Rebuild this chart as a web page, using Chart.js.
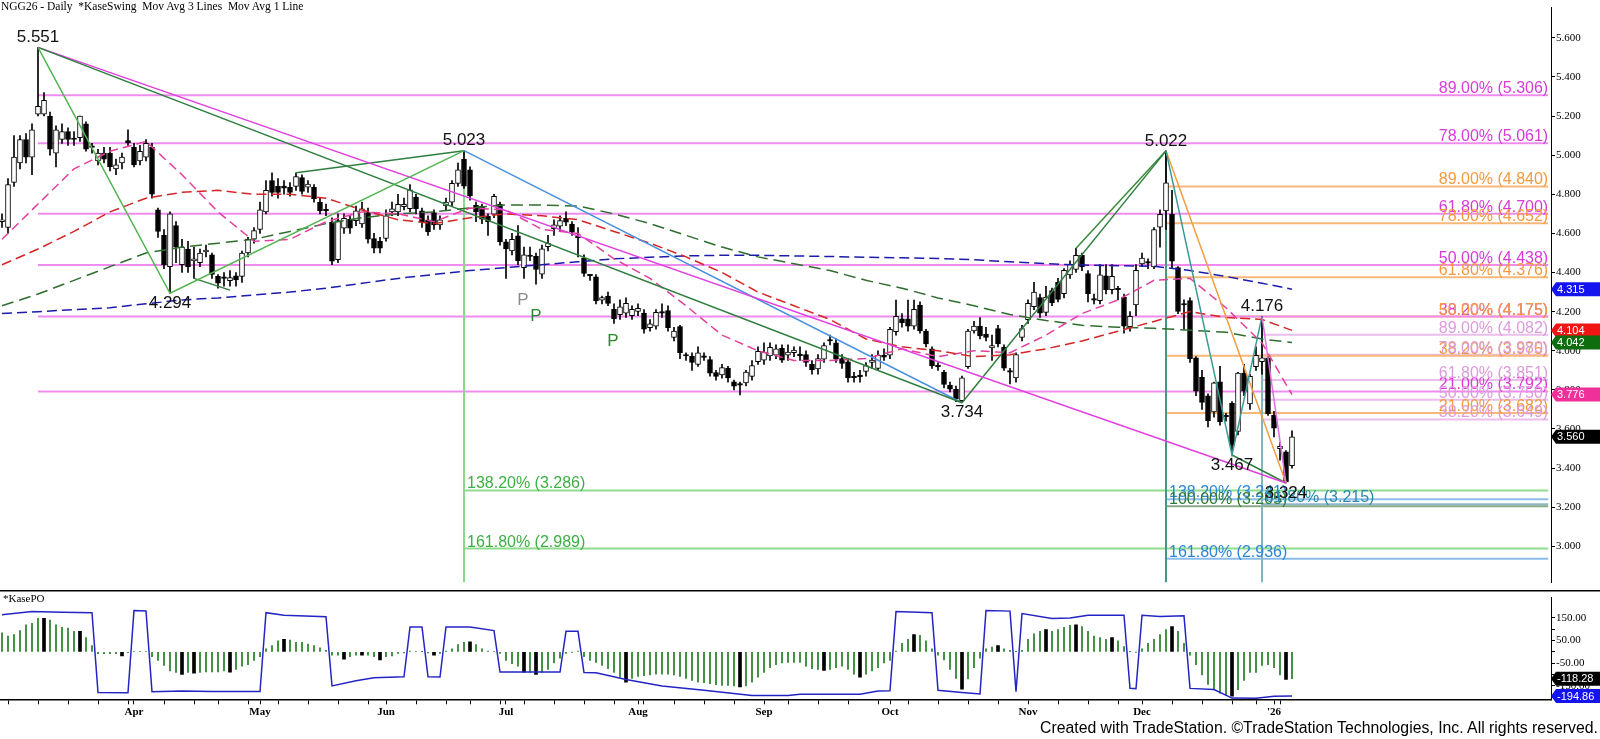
<!DOCTYPE html>
<html><head><meta charset="utf-8">
<script src="https://cdn.jsdelivr.net/npm/chart.js@4.4.1/dist/chart.umd.min.js"></script>
<style>
html,body{margin:0;padding:0;background:#fff;width:1600px;height:739px;overflow:hidden;position:relative}
#c1{position:absolute;left:0;top:0}
#c2{position:absolute;left:0;top:590px}
#title{position:absolute;left:1px;top:0px;font:11.5px "Liberation Serif";color:#000;white-space:pre}
#po{position:absolute;left:3px;top:592px;font:11px "Liberation Serif";color:#000}
#copy{position:absolute;right:2px;top:719px;font:16px "Liberation Sans";color:#000;white-space:nowrap;transform-origin:right center}
</style></head><body>
<canvas id="c1" width="1600" height="590"></canvas>
<canvas id="c2" width="1600" height="149"></canvas>
<div id="title">NGG26 - Daily  *KaseSwing  Mov Avg 3 Lines  Mov Avg 1 Line</div>
<div id="po">*KasePO</div>
<div id="copy">Created with TradeStation. ©TradeStation Technologies, Inc. All rights reserved.</div>
<script>
// ---------- price data (bar index 0 = 28 Feb 2025 ... 215 = 7 Jan 2026) ----------
const openP = [
4.66,4.63,4.86,4.96,5.08,4.99,5.21,5.21,5.20,5.01,
5.08,5.12,5.08,5.09,5.16,5.04,4.97,5.01,5.01,4.93,
4.96,5.075,5.04,4.97,4.99,5.04,4.72,4.59,4.43,4.64,
4.44,4.52,4.46,4.45,4.505,4.49,4.38,4.37,4.358,4.383,
4.38,4.50,4.57,4.62,4.71,4.87,4.84,4.842,4.836,4.84,
4.886,4.836,4.836,4.76,4.715,4.657,4.466,4.627,4.673,4.665,
4.648,4.707,4.574,4.56,4.574,4.71,4.71,4.737,4.726,4.786,
4.715,4.67,4.707,4.643,4.74,4.76,4.856,4.98,4.925,4.743,
4.74,4.687,4.698,4.748,4.557,4.511,4.587,4.425,4.482,4.483,
4.391,4.532,4.624,4.637,4.677,4.648,4.577,4.474,4.383,4.378,
4.259,4.279,4.212,4.184,4.192,4.179,4.201,4.192,4.118,4.126,
4.192,4.206,4.068,4.123,3.973,3.973,3.93,3.966,3.955,3.889,
3.877,3.91,3.841,3.824,3.836,3.869,3.944,3.952,3.973,3.978,
4.013,3.977,3.99,3.975,3.98,3.93,3.907,3.957,4.05,4.04,
3.96,3.944,3.862,3.868,3.894,3.94,3.91,3.977,3.977,4.098,
4.163,4.163,4.126,4.234,4.101,4.01,3.919,3.891,3.824,3.803,
3.745,3.919,4.101,4.126,4.085,4.015,4.113,4.018,3.891,3.861,
4.068,4.159,4.226,4.272,4.196,4.308,4.35,4.292,4.388,4.416,
4.488,4.395,4.259,4.256,4.383,4.312,4.312,4.275,4.123,4.234,
4.444,4.448,4.428,4.632,4.715,4.698,4.425,4.234,4.256,3.964,
3.864,3.77,3.687,3.841,3.662,3.731,3.587,3.886,3.728,3.919,
3.944,3.964,3.67,3.499,3.483,3.413];
const highP = [
4.70,4.88,5.10,5.10,5.11,5.16,5.551,5.32,5.22,5.15,
5.16,5.14,5.12,5.20,5.17,5.06,5.03,5.04,5.04,4.98,
5.01,5.13,5.06,5.05,5.08,5.06,4.73,4.62,4.71,4.66,
4.57,4.56,4.53,4.52,4.54,4.50,4.39,4.40,4.41,4.40,
4.51,4.58,4.63,4.76,4.87,4.91,4.88,4.87,4.86,4.91,
4.90,4.87,4.85,4.78,4.75,4.68,4.70,4.70,4.69,4.74,
4.76,4.73,4.60,4.58,4.72,4.76,4.80,4.78,4.85,4.80,
4.73,4.69,4.72,4.69,4.78,4.87,4.96,5.023,4.94,4.76,
4.75,4.70,4.80,4.76,4.57,4.60,4.64,4.53,4.53,4.50,
4.54,4.59,4.67,4.69,4.71,4.66,4.63,4.49,4.39,4.39,
4.28,4.30,4.24,4.26,4.27,4.23,4.24,4.21,4.16,4.21,
4.24,4.23,4.12,4.13,3.99,3.99,4.02,3.99,3.97,3.90,
3.93,3.92,3.85,3.84,3.90,3.95,4.02,4.04,4.04,4.03,
4.03,4.03,4.02,4.02,4.00,3.95,3.98,4.04,4.08,4.06,
3.98,3.96,3.89,3.90,3.94,3.98,4.00,4.01,4.12,4.259,
4.19,4.259,4.259,4.25,4.11,4.02,3.94,3.90,3.84,3.82,
3.87,4.11,4.15,4.17,4.12,4.08,4.13,4.03,3.91,3.99,
4.13,4.26,4.35,4.29,4.33,4.32,4.37,4.42,4.46,4.524,
4.50,4.41,4.29,4.44,4.44,4.44,4.33,4.29,4.20,4.44,
4.50,4.47,4.63,4.72,5.022,4.82,4.43,4.26,4.27,3.97,
3.90,3.78,3.84,3.92,3.68,3.74,3.89,3.93,3.88,4.02,
4.176,3.97,3.69,3.53,3.49,3.59];
const lowP = [
4.63,4.60,4.84,4.93,4.96,4.90,5.20,5.20,5.00,4.94,
5.06,5.05,5.05,5.07,5.02,5.01,4.95,4.96,4.92,4.90,
4.93,5.05,4.94,4.95,4.97,4.78,4.58,4.42,4.294,4.45,
4.40,4.40,4.37,4.43,4.48,4.37,4.32,4.33,4.33,4.33,
4.35,4.48,4.55,4.60,4.70,4.79,4.78,4.80,4.79,4.82,
4.80,4.81,4.76,4.70,4.69,4.44,4.45,4.60,4.60,4.64,
4.63,4.55,4.50,4.50,4.56,4.69,4.69,4.72,4.71,4.70,
4.63,4.59,4.62,4.62,4.72,4.74,4.84,4.83,4.77,4.66,
4.65,4.59,4.68,4.54,4.37,4.49,4.44,4.37,4.46,4.34,
4.37,4.51,4.59,4.61,4.64,4.59,4.48,4.38,4.36,4.24,
4.24,4.23,4.14,4.16,4.17,4.16,4.18,4.09,4.10,4.11,
4.17,4.10,4.05,3.96,3.95,3.90,3.92,3.95,3.87,3.85,
3.86,3.84,3.80,3.774,3.82,3.85,3.93,3.93,3.95,3.96,
3.94,3.95,3.97,3.95,3.92,3.88,3.88,3.94,4.03,3.94,
3.91,3.84,3.84,3.84,3.87,3.91,3.90,3.95,3.96,4.08,
4.12,4.10,4.11,4.09,4.02,3.91,3.90,3.81,3.79,3.74,
3.734,3.91,4.09,4.06,4.05,3.95,4.02,3.90,3.83,3.84,
4.05,4.14,4.21,4.17,4.18,4.23,4.25,4.27,4.37,4.40,
4.41,4.25,4.24,4.24,4.29,4.29,4.26,4.09,4.10,4.18,
4.43,4.42,4.42,4.53,4.62,4.42,4.19,4.11,3.94,3.77,
3.70,3.61,3.66,3.62,3.64,3.467,3.57,3.77,3.70,3.90,
3.88,3.67,3.56,3.44,3.324,3.40];
const closeP = [
4.67,4.85,4.99,5.08,4.99,5.13,5.25,5.28,5.03,5.13,
5.12,5.08,5.083,5.20,5.03,5.043,5.01,4.98,4.94,4.95,
4.99,5.063,4.95,5.02,5.06,4.80,4.61,4.44,4.70,4.53,
4.53,4.43,4.47,4.50,4.515,4.39,4.345,4.373,4.374,4.362,
4.50,4.57,4.615,4.72,4.82,4.81,4.81,4.831,4.809,4.89,
4.814,4.852,4.776,4.715,4.718,4.458,4.665,4.677,4.627,4.715,
4.726,4.57,4.524,4.524,4.69,4.726,4.748,4.748,4.823,4.726,
4.657,4.607,4.643,4.67,4.76,4.856,4.925,4.842,4.791,4.71,
4.673,4.66,4.789,4.557,4.521,4.57,4.461,4.491,4.485,4.416,
4.521,4.549,4.644,4.665,4.657,4.607,4.58,4.395,4.386,4.255,
4.272,4.242,4.163,4.225,4.242,4.212,4.217,4.11,4.138,4.196,
4.195,4.118,4.101,3.99,3.976,3.94,3.99,3.969,3.885,3.869,
3.914,3.861,3.819,3.827,3.891,3.924,3.997,3.993,4.018,4.01,
3.952,3.993,4.003,3.978,3.94,3.902,3.96,4.027,4.053,3.957,
3.935,3.861,3.866,3.871,3.924,3.952,3.977,3.967,4.109,4.176,
4.143,4.126,4.212,4.101,4.035,3.924,3.922,3.828,3.803,3.753,
3.861,4.101,4.126,4.076,4.068,4.027,4.035,3.911,3.894,3.98,
4.113,4.242,4.30,4.192,4.275,4.245,4.262,4.411,4.441,4.488,
4.428,4.292,4.262,4.388,4.312,4.38,4.315,4.126,4.176,4.411,
4.474,4.451,4.62,4.698,4.859,4.458,4.201,4.237,3.96,3.794,
3.736,3.642,3.836,3.637,3.665,3.516,3.886,3.794,3.869,3.977,
3.964,3.678,3.604,3.512,3.33,3.56];

// ---------- moving averages (read at these bar indices) ----------
const maX     = [0,6,12,18,24,30,36,42,48,54,60,66,72,78,84,90,96,102,108,114,120,126,132,138,144,150,156,162,168,174,180,186,192,198,204,210,215];
const maPink  = [4.57,4.75,4.93,5.02,5.07,4.90,4.71,4.56,4.57,4.66,4.71,4.70,4.66,4.73,4.72,4.62,4.60,4.47,4.37,4.23,4.08,4.00,3.95,3.95,3.96,4.01,3.97,4.00,3.99,4.08,4.19,4.26,4.36,4.37,4.22,4.04,3.776];
const maRed   = [4.44,4.52,4.61,4.71,4.78,4.81,4.82,4.80,4.80,4.78,4.72,4.67,4.65,4.68,4.70,4.69,4.67,4.61,4.55,4.48,4.40,4.30,4.23,4.16,4.06,4.02,4.00,3.97,3.98,4.01,4.05,4.10,4.15,4.20,4.17,4.16,4.104];
const maGreen = [4.23,4.29,4.36,4.43,4.50,4.53,4.55,4.57,4.61,4.65,4.68,4.70,4.71,4.73,4.745,4.745,4.74,4.70,4.65,4.59,4.53,4.48,4.445,4.41,4.36,4.32,4.27,4.23,4.185,4.155,4.13,4.12,4.115,4.105,4.095,4.06,4.042];
const maBlue  = [4.19,4.20,4.21,4.22,4.24,4.26,4.27,4.285,4.30,4.32,4.345,4.37,4.39,4.41,4.425,4.44,4.455,4.47,4.478,4.485,4.488,4.488,4.485,4.482,4.478,4.475,4.472,4.465,4.455,4.445,4.438,4.435,4.432,4.41,4.38,4.345,4.315];

// ---------- swings ----------
const swingIdx = [6, 28, 77, 160, 194, 205, 210, 214];
const swingVal = [5.551, 4.294, 5.023, 3.734, 5.022, 3.467, 4.176, 3.324];
const swingPos = ['above','below','above','below','above','below','above','below'];

// ---------- fib levels ----------
const magentaFib = [5.306, 5.061, 4.700, 4.438, 4.175, 3.792];
const magentaPct = ['89.00%','78.00%','61.80%','50.00%','38.20%','21.00%'];
const orangeFib  = [4.840, 4.652, 4.376, 4.175, 3.975, 3.682];
const orangePct  = ['89.00%','78.00%','61.80%','50.00%','38.20%','21.00%'];
const pinkFib    = [4.082, 3.980, 3.851, 3.750, 3.649];
const pinkPct    = ['89.00%','78.00%','61.80%','50.00%','38.20%'];
const greenExt   = [3.286, 2.989];
const greenExtPct= ['138.20%','161.80%'];
const blueExt    = [3.241, 2.936];
const blueExtPct = ['138.20%','161.80%'];
const dkGreenExt = [3.205];
const dkGreenPct = ['100.00%'];
const tealExt    = [3.215];
const tealExtPct = ['61.80%'];

// P markers
const pIdx = [86.8, 89, 101.8];
const pVal = [4.26, 4.175, 4.05];
const pCol = ['#8c8c8c', '#2a8a2a', '#2a8a2a'];

// axis ticks
const priceTicks = [3.0,3.2,3.4,3.6,3.8,4.0,4.2,4.4,4.6,4.8,5.0,5.2,5.4,5.6];
const poTicks = [-200,-150,-100,-50,0,50,100,150];
const poTickLabels = {'150':'150.00','50':'50.00','-50':'-50.00','-150':'-150.00'};
const monthIdx = [22,43,64,84,106,127,148,171,190,212];
const monthLbl = ['Apr','May','Jun','Jul','Aug','Sep','Oct','Nov','Dec',"'26"];
const weekIdx = [1,6,11,16,21,27,32,36,41,46,51,56,61,64,69,74,78,83,87,92,97,102,107,112,117,122,127,131,136,141,146,151,156,161,166,171,176,181,186,190,195,200,205,209,213];

// ---------- KasePO ----------
const poHist = [
84,70,77,94,119,126,148,148,141,119,
108,105,91,91,63,28,-8,-8,-8,-8,
-18,-3,3,2,2,-21,-38,-60,-84,-91,
-99,-91,-94,-91,-88,-88,-88,-84,-89,-77,
-63,-56,-38,-21,14,28,49,56,52,42,
42,35,28,18,7,-14,-14,-32,-21,-14,
-14,-14,-21,-35,-21,-18,-7,-4,4,3,
1,-4,-14,-7,4,14,32,42,45,32,
14,4,3,-7,-38,-52,-63,-89,-89,-99,
-89,-77,-49,-28,-7,-1,4,-21,-38,-46,
-60,-74,-91,-112,-134,-117,-108,-105,-102,-98,
-98,-98,-102,-108,-117,-126,-134,-136,-140,-145,
-148,-148,-150,-155,-150,-134,-112,-91,-70,-56,
-49,-46,-46,-46,-63,-74,-77,-82,-77,-70,
-63,-77,-98,-112,-98,-84,-70,-49,-38,4,
38,56,77,73,49,14,-14,-35,-77,-117,
-164,-119,-70,-28,14,21,28,14,7,1,
7,56,80,91,98,91,98,108,117,119,
112,91,70,63,56,63,49,24,1,-1,
14,38,56,77,98,112,91,38,-14,-56,
-102,-144,-167,-182,-191,-195,-167,-126,-91,-91,
-60,-56,-70,-102,-121,-118.28];
const poBlack = [7,13,20,30,32,38,47,57,60,63,72,78,87,89,104,123,137,143,152,160,166,174,179,185,195,205,214];
const poLineIdx = [0,5,10,15,16,21,22,24,25,30,35,43,44,47,54,55,59,62,67,68,70,71,73,74,78,82,83,93,94,96,97,99,104,110,117,125,131,133,143,146,148,149,155,156,160,163,164,168,169,170,175,178,181,187,188,189,190,193,197,198,202,205,209,212,215];
const poLineVal = [164,178,175,173,-179,-180,183,181,-176,-173,-175,-175,173,162,155,-150,-127,-114,-110,110,110,-110,-111,110,110,94,-89,-89,91,91,-91,-92,-122,-150,-169,-192,-192,-187,-187,-173,-172,178,173,-169,-179,-186,183,180,-176,169,148,150,162,162,-161,-162,162,156,160,-161,-166,-204,-205,-196,-194.86];

// right-side value badges
const priceBadgeVal = [4.315, 4.104, 4.042, 3.776, 3.560];
const priceBadgeCol = ['#1414f0', '#f01414', '#0e6e0e', '#f0309a', '#000000'];
const poBadgeVal = [-118.28, -194.86];
const poBadgeCol = ['#000000', '#1414f0'];

// ---------- layout constants ----------
const AXIS_W = 49;
const X_MIN = -2/6, X_MAX = X_MIN + 1551/6;
const FIB_END = 257.7;
const Y_MIN = 2.8157, Y_MAX = 5.7544;
const PO_MIN = -209.2, PO_MAX = 239.7;

function lineDS(points, color, width, dash, order){
  return {type:'line', data:points, borderColor:color, borderWidth:width, borderDash:dash||[],
    pointRadius:0, pointHoverRadius:0, fill:false, tension:0, order:order};
}
const pts = (xs, ys) => xs.map((x,k)=>({x:x, y:ys[k]}));

const fibSets = [
 {levels:magentaFib, pct:magentaPct, start:6,   line:'#f08cf0', text:'#d83ad8', align:'right'},
 {levels:orangeFib,  pct:orangePct,  start:194, line:'#f8b878', text:'#f39a40', align:'right'},
 {levels:pinkFib,    pct:pinkPct,    start:210, line:'#ecbcec', text:'#dc9cdc', align:'right'},
 {levels:greenExt,   pct:greenExtPct,start:77,  line:'#8edc8e', text:'#3cb043', align:'left'},
 {levels:blueExt,    pct:blueExtPct, start:194, line:'#8cbcec', text:'#2d86d6', align:'left'},
 {levels:dkGreenExt, pct:dkGreenPct, start:194, line:'#88aa88', text:'#2e7d32', align:'left'},
 {levels:tealExt,    pct:tealExtPct, start:210, line:'#8cb8c8', text:'#2a8aaa', align:'left'}
];

const datasets = [];
fibSets.forEach(fs => fs.levels.forEach(lv => {
  datasets.push(lineDS([{x:fs.start,y:lv},{x:FIB_END,y:lv}], fs.line, 2, null, 10));
}));
// vertical swing lines
datasets.push(lineDS([{x:swingIdx[2],y:swingVal[2]},{x:swingIdx[2],y:Y_MIN}], '#8ad88a', 2, null, 9));
datasets.push(lineDS([{x:swingIdx[4],y:swingVal[4]},{x:swingIdx[4],y:Y_MIN}], '#4a9484', 2, null, 9));
datasets.push(lineDS([{x:swingIdx[6],y:swingVal[6]},{x:swingIdx[6],y:Y_MIN}], '#84b4ba', 2, null, 9));

// candles
const isDoji = i => Math.abs(closeP[i]-openP[i]) < 0.005;
datasets.push({type:'bar', data: highP.map((h,i)=>({x:i, y:[lowP[i], h]})), backgroundColor:'#000',
  barThickness:1, grouped:false, order:6});
datasets.push({type:'bar', data: closeP.map((c,i)=>({x:i, y:[openP[i], c]})),
  backgroundColor: closeP.map((c,i)=> (isDoji(i) || c < openP[i]) ? '#000' : '#fff'),
  borderColor:'#000', borderWidth:1, borderSkipped:false, barThickness:5, minBarLength:1.5,
  grouped:false, order:5});

// moving averages
datasets.push(lineDS(pts(maX, maBlue),  '#1c1caa', 1.5, [10,5], 4));
datasets.push(lineDS(pts(maX, maGreen), '#2f6e2f', 1.5, [12,6], 4));
datasets.push(lineDS(pts(maX, maRed),   '#d42626', 1.5, [10,5], 3));
datasets.push(lineDS(pts(maX, maPink),  '#e2409c', 1.5, [9,5], 3));

// swing lines
const S = (k) => ({x:swingIdx[k], y:swingVal[k]});
datasets.push(lineDS([S(0),S(1),S(2)], '#52b552', 1.5, null, 2));
datasets.push(lineDS([S(0),S(3)], '#2f7f3f', 1.5, null, 2));
datasets.push(lineDS([S(0),S(7)], '#e040e0', 1.5, null, 2));
datasets.push(lineDS([{x:32,y:4.37},{x:38,y:4.31}], '#2f7f3f', 1.5, null, 2));
datasets.push(lineDS([{x:49,y:4.91},S(2)], '#2f7f3f', 1.5, null, 2));
datasets.push(lineDS([S(2),S(3)], '#4a90dc', 1.5, null, 2));
datasets.push(lineDS([S(3),S(4)], '#2f7f3f', 1.5, null, 2));
datasets.push(lineDS([{x:179,y:4.524},S(4)], '#3a8a3a', 1.5, null, 2));
datasets.push(lineDS([S(4),S(5),S(6)], '#3a9a96', 1.5, null, 2));
datasets.push(lineDS([S(6),S(7)], '#e070e0', 1.5, null, 2));
datasets.push(lineDS([S(4),S(7)], '#f0a040', 1.5, null, 2));
datasets.push(lineDS([S(5),S(7)], '#2f7f3f', 1.5, null, 2));

function badge(ctx, py, col, txt){
  ctx.fillStyle = col;
  ctx.beginPath();
  ctx.moveTo(1551, py); ctx.lineTo(1556, py-7); ctx.lineTo(1600, py-7);
  ctx.lineTo(1600, py+7); ctx.lineTo(1556, py+7); ctx.closePath(); ctx.fill();
  ctx.fillStyle = '#fff'; ctx.font = '11px "Liberation Sans"';
  ctx.textAlign = 'left'; ctx.textBaseline = 'middle';
  ctx.fillText(txt, 1557, py+0.5);
}

const annotPlugin = {
  id:'annot',
  afterDraw(chart){
    const {ctx, scales:{x, y}} = chart;
    ctx.save();
    ctx.font = '16px "Liberation Sans"';
    ctx.textBaseline = 'alphabetic';
    fibSets.forEach(fs => {
      ctx.fillStyle = fs.text;
      fs.levels.forEach((lv,k) => {
        const py = y.getPixelForValue(lv) - 2;
        const label = fs.pct[k] + ' (' + lv.toFixed(3) + ')';
        if (fs.align === 'right') { ctx.textAlign='right'; ctx.fillText(label, x.getPixelForValue(FIB_END), py); }
        else { ctx.textAlign='left'; ctx.fillText(label, x.getPixelForValue(fs.start)+3, py); }
      });
    });
    ctx.font = '17px "Liberation Sans"';
    ctx.fillStyle = '#111'; ctx.textAlign = 'center'; ctx.textBaseline = 'middle';
    swingIdx.forEach((si,k) => {
      const px = x.getPixelForValue(si), py = y.getPixelForValue(swingVal[k]);
      ctx.fillText(swingVal[k].toFixed(3), px, swingPos[k]==='above' ? py-10 : py+10);
    });
    pIdx.forEach((pi,k) => {
      ctx.fillStyle = pCol[k];
      ctx.fillText('P', x.getPixelForValue(pi), y.getPixelForValue(pVal[k]));
    });
    priceBadgeVal.forEach((v,k) => badge(ctx, y.getPixelForValue(v), priceBadgeCol[k], v.toFixed(3)));
    ctx.restore();
  }
};

new Chart(document.getElementById('c1'), {
  type:'bar',
  data:{datasets},
  options:{
    responsive:false, animation:false, events:[],
    layout:{padding:0},
    plugins:{legend:{display:false}, tooltip:{enabled:false}},
    scales:{
      x:{type:'linear', min:X_MIN, max:X_MAX, display:false, offset:false, grid:{offset:false}},
      y:{type:'linear', position:'right', min:Y_MIN, max:Y_MAX,
         afterFit:s=>{s.width=AXIS_W;},
         afterBuildTicks:s=>{s.ticks = priceTicks.map(v=>({value:v}));},
         grid:{drawOnChartArea:false, drawTicks:true, tickLength:4, color:'#000'},
         border:{display:true, color:'#000', width:1},
         ticks:{autoSkip:false, color:'#000', padding:1, font:{family:'Liberation Serif', size:11}, callback:v=>Number(v).toFixed(3)}}
    }
  },
  plugins:[annotPlugin]
});

// ---------- KasePO panel ----------
const poDatasets = [
  {type:'bar', data: poHist.map((v,i)=>({x:i,y:v})).filter(p=>!poBlack.includes(p.x)),
   backgroundColor:'#1f7a1f', barThickness:1, grouped:false, order:3},
  {type:'bar', data: poHist.map((v,i)=>({x:i,y:v})).filter(p=>poBlack.includes(p.x)),
   backgroundColor:'#000', barThickness:3, grouped:false, order:2},
  lineDS(pts(poLineIdx, poLineVal), '#2424c4', 1.5, null, 1)
];
const poPlugin = {
  id:'poAnnot',
  afterDraw(chart){
    const {ctx, scales:{y}} = chart;
    ctx.save();
    ctx.fillStyle = '#000';
    ctx.fillRect(0, 0, 1600, 1.5);
    poBadgeVal.forEach((v,k)=> badge(ctx, y.getPixelForValue(v), poBadgeCol[k], v.toFixed(2)));
    ctx.restore();
  }
};
const allTicks = Array.from(new Set(weekIdx.concat(monthIdx))).sort((a,b)=>a-b);
new Chart(document.getElementById('c2'), {
  type:'bar',
  data:{datasets:poDatasets},
  options:{
    responsive:false, animation:false, events:[],
    layout:{padding:{top:1}},
    plugins:{legend:{display:false}, tooltip:{enabled:false}},
    scales:{
      x:{type:'linear', min:X_MIN, max:X_MAX, offset:false,
         afterFit:s=>{s.height=39.7;},
         afterBuildTicks:s=>{s.ticks = allTicks.map(v=>({value:v}));},
         grid:{drawOnChartArea:false, drawTicks:true, tickLength:5, color:'#000', offset:false},
         border:{display:true, color:'#000', width:1.5},
         ticks:{autoSkip:false, maxRotation:0, minRotation:0, padding:1, color:'#000',
                font:{family:'Liberation Serif', size:11, weight:'bold'},
                callback:v=>{const k = monthIdx.indexOf(v); return k>=0 ? monthLbl[k] : '';}}},
      y:{type:'linear', position:'right', min:PO_MIN, max:PO_MAX,
         afterFit:s=>{s.width=AXIS_W;},
         afterBuildTicks:s=>{s.ticks = poTicks.map(v=>({value:v}));},
         grid:{drawOnChartArea:false, drawTicks:true, tickLength:4, color:'#000'},
         border:{display:true, color:'#000', width:1},
         ticks:{autoSkip:false, color:'#000', padding:1, font:{family:'Liberation Serif', size:11},
                callback:v=> poTickLabels[String(v)] || ''}}
    }
  },
  plugins:[poPlugin]
});

// fit copyright width
const cp = document.getElementById('copy');
const cw = cp.getBoundingClientRect().width;
if (cw > 0) cp.style.transform = 'scaleX(' + (558/cw) + ')';
</script>
</body></html>
